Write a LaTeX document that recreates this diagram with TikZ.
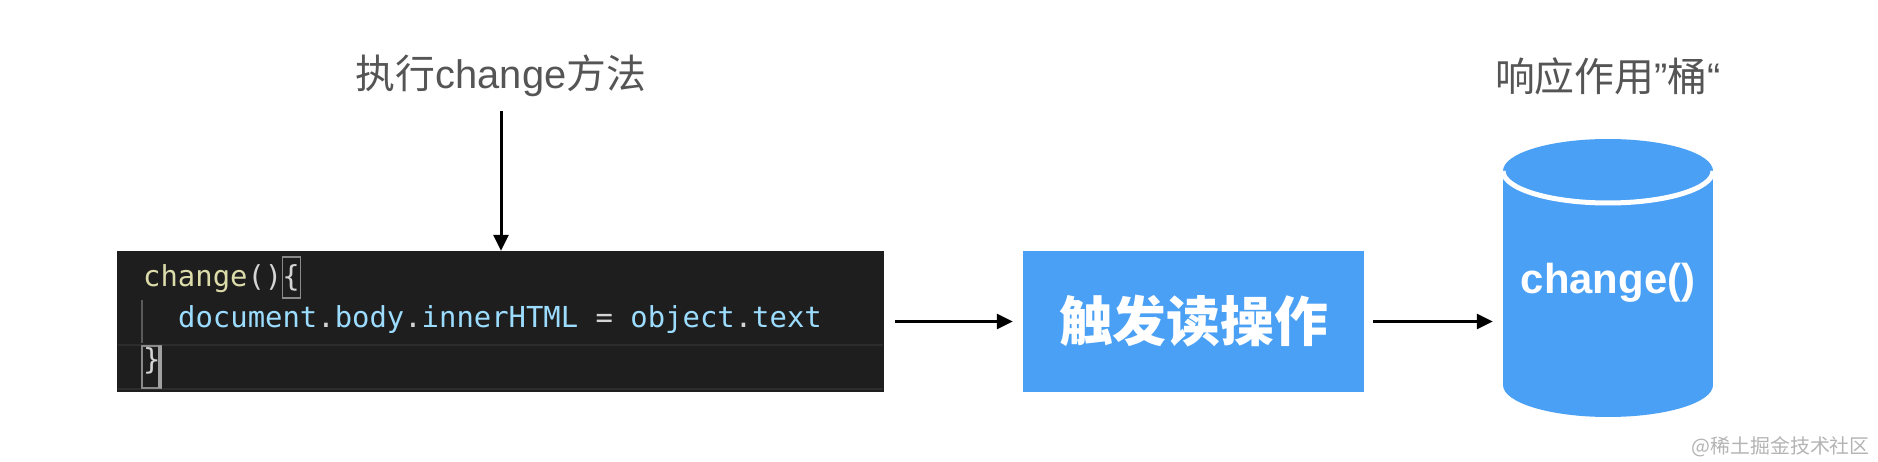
\documentclass[tikz,border=0pt]{standalone}
\usepackage{fontspec}
\setmainfont{Liberation Sans}
\newfontfamily\cjk{Noto Sans CJK SC}
\newfontfamily\latn{Liberation Sans}
\newfontfamily\cmono{DejaVu Sans Mono}
\usetikzlibrary{arrows.meta}
\definecolor{codebg}{HTML}{1E1E1E}
\definecolor{codehl}{HTML}{2C2C2C}
\definecolor{fnc}{HTML}{DCDCAA}
\definecolor{varc}{HTML}{9CDCFE}
\definecolor{punc}{HTML}{D4D4D4}
\definecolor{guide}{HTML}{5A5A5A}
\definecolor{brbox}{HTML}{8A8A8A}
\definecolor{blueC}{HTML}{4AA0F5}
\definecolor{titleC}{HTML}{555555}
\definecolor{wmC}{HTML}{B4B4B4}
\tikzset{
  arr/.style={line width=3bp, -{Triangle[length=16bp,width=15bp]}},
  titletext/.style={text=titleC, font=\cjk\fontsize{40}{42}\selectfont},
  codeline/.style={anchor=base west, inner sep=0, font=\cmono\fontsize{29}{32}\selectfont},
  bluebox/.style={fill=blueC, inner sep=0, minimum width=341bp, minimum height=141bp, text=white},
}
\begin{document}
\begin{tikzpicture}[x=1bp, y=-1bp]
\fill[white] (0,0) rectangle (1878,462);
\useasboundingbox (0,0) rectangle (1878,462);

% titles
\node[titletext] (title1) at (501,76) {执行{\latn change}方法};
\node[titletext] (title2) at (1608,76) {响应作用{\latn ”}桶{\latn “}};

% code box
\node[fill=codebg, inner sep=0, minimum width=767bp, minimum height=141bp] (code) at (500.5,321.5) {};
\draw[codehl, line width=2bp] (118,345) -- (883,345);
\draw[codehl, line width=2bp] (118,389) -- (883,389);
\draw[guide, line width=1.5bp] (142,300) -- (142,343);
\draw[brbox, line width=1.5bp] (282.5,257) rectangle (300.5,298);
\draw[brbox, line width=1.5bp] (142,346) rectangle (161,388);
\fill[brbox!80!white] (158,346) rectangle (162,388);
\node[codeline] (l1) at (143,287) {\textcolor{fnc}{change}\textcolor{punc}{()\{}};
\node[codeline] (l2) at (178,328) {\textcolor{varc}{document}\textcolor{punc}{.}\textcolor{varc}{body}\textcolor{punc}{.}\textcolor{varc}{innerHTML}\textcolor{punc}{\ =\ }\textcolor{varc}{object}\textcolor{punc}{.}\textcolor{varc}{text}};
\node[codeline] (l3) at (143,370) {\textcolor{punc}{\}}};

% blue box
\node[bluebox, font=\cjk\bfseries\fontsize{54}{56}\selectfont] (blue) at (1193.5,321.5) {触发读操作};

% cylinder
\node[inner sep=0, minimum width=210bp, minimum height=278bp] (cyl) at (1608,278) {};
\fill[blueC] (1503,171) rectangle (1713,385);
\fill[blueC] (1608,385) ellipse [x radius=105, y radius=32];
\fill[blueC] (1608,171) ellipse [x radius=105, y radius=32];
\draw[white, line width=5bp] (1503,171) arc [start angle=180, end angle=0, x radius=105, y radius=32];
\node[anchor=base, inner sep=0, text=white, font=\bfseries\fontsize{42}{44}\selectfont] (cyltext) at (1608,294) {change()};

% connectors
\coordinate (t1) at (501,111);
\draw[arr] (t1) -- (t1 |- code.north);
\draw[arr] ([xshift=11bp]code.east) -- ([xshift=-10bp]blue.west);
\draw[arr] ([xshift=9bp]blue.east) -- ([xshift=-10bp]blue.east -| cyl.west);

% watermark
\node[anchor=east, inner sep=0, text=wmC, font=\cjk\fontsize{20}{22}\selectfont] (wm) at (1870,447) {@稀土掘金技术社区};
\end{tikzpicture}
\end{document}
